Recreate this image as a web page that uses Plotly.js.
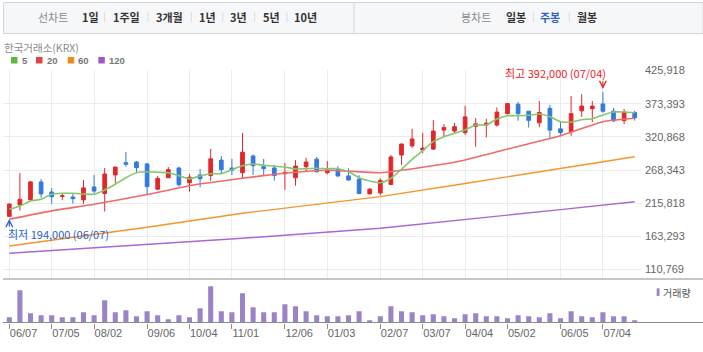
<!DOCTYPE html>
<html>
<head>
<meta charset="utf-8">
<script src="https://cdn.plot.ly/plotly-3.0.1.min.js"></script>
<style>
html,body{margin:0;padding:0;background:#fff;}
#chart{width:703px;height:352px;}
</style>
</head>
<body>
<div id="chart"></div>
<script>
// ---------------- DATA ----------------
const dates = [
 '2024-06-07','2024-06-14','2024-06-21','2024-06-28','2024-07-05','2024-07-12','2024-07-19','2024-07-26',
 '2024-08-02','2024-08-09','2024-08-16','2024-08-23','2024-08-30','2024-09-06','2024-09-13','2024-09-20',
 '2024-09-27','2024-10-04','2024-10-11','2024-10-18','2024-10-25','2024-11-01','2024-11-08','2024-11-15',
 '2024-11-22','2024-11-29','2024-12-06','2024-12-13','2024-12-20','2024-12-27','2025-01-03','2025-01-10',
 '2025-01-17','2025-01-24','2025-01-31','2025-02-07','2025-02-14','2025-02-21','2025-02-28','2025-03-07',
 '2025-03-14','2025-03-21','2025-03-28','2025-04-04','2025-04-11','2025-04-18','2025-04-25','2025-05-02',
 '2025-05-09','2025-05-16','2025-05-23','2025-05-30','2025-06-05','2025-06-13','2025-06-20','2025-06-27',
 '2025-07-04','2025-07-11','2025-07-18','2025-07-25'
];
const openP = [195000,213000,221000,249500,233500,226500,225500,221000,241500,231000,260500,280000,281000,278000,238000,256000,
 271500,248000,260500,259500,284000,271500,264000,290500,273500,271500,262500,256000,273500,285500,264000,269000,
 259000,254000,230500,232000,245500,292000,306500,300000,301500,331500,330000,327500,337500,339500,339500,357500,
 372500,361500,343000,366000,333500,329000,362000,365500,373000,361500,346500,359500];
const highP = [215000,263500,251000,254000,240000,231500,231000,252500,260500,271500,273500,297000,282500,279500,259000,273000,
 273500,262000,270000,301500,290500,286000,327000,293000,286000,276500,279500,284000,287500,289000,282500,274500,
 271000,260000,240000,255000,292000,310000,333500,327000,347500,341000,343000,370000,350500,349500,367500,374000,
 376000,361500,377500,371500,345500,385500,388500,377500,392000,366500,365000,362000];
const lowP = [194000,204000,220500,224500,215000,220500,215000,214500,231500,202500,247500,273500,264500,230000,236500,256000,
 242000,234000,241000,251000,262000,260500,255000,260500,260500,251500,237000,243500,265500,264500,261500,257000,
 251500,230500,229500,228500,244500,276500,303500,295000,300000,320500,325500,324000,305000,320000,337000,356500,
 346500,335500,336000,319000,321500,322500,352500,344000,359000,344500,341000,346500];
const closeP = [214500,222000,249500,230500,226000,227500,223000,240000,235000,262000,273000,277500,272000,242000,255000,269000,
 245000,257000,254500,286000,269000,268000,296500,275000,270500,259500,264500,274500,281000,265500,268500,259000,
 252500,231000,238000,252000,289000,309500,317500,303000,330000,335500,337000,352500,341500,342500,360000,373500,
 357500,347000,359500,331500,327500,357500,369500,369500,361500,346000,360000,351000];
const volume = [160000,970000,280000,220000,220000,160000,160000,310000,220000,670000,310000,370000,190000,340000,220000,100000,
 220000,160000,430000,1090000,340000,310000,880000,460000,310000,310000,550000,490000,340000,220000,190000,190000,
 220000,340000,70000,190000,490000,340000,310000,220000,250000,190000,130000,250000,280000,190000,190000,130000,
 220000,190000,160000,280000,130000,340000,190000,160000,310000,190000,190000,70000];
const ma5 = [206100,211330,219250,221940,229860,231440,231440,230330,229860,236670,245690,256150,264060,265650,264700,264060,
 259310,254560,258840,262480,262480,268820,275150,277840,275780,274200,273090,269920,270400,271030,270400,270400,
 265650,256150,250920,248230,255200,269450,285290,298900,313160,321080,326460,331690,339610,339610,349110,354340,
 354340,354970,357030,352750,344830,344360,348000,349580,355440,360190,360190,359090];
const ma20Idx = [0,4,8,13,17,22,26,30,35,39,43,47,52,56,59];
const ma20Val = [190300,203600,214000,229500,243500,255200,263100,267900,264100,272600,284200,301600,322700,344800,350200];
const ma60Idx = [0,13,22,30,35,43,52,59];
const ma60Val = [148000,177600,199800,215600,226100,247000,271200,289400];
const ma120Idx = [0,13,22,35,43,52,59];
const ma120Val = [136400,150700,160200,176000,189600,205600,218100];
const tickDates = ['2024-06-07','2024-07-05','2024-08-02','2024-09-06','2024-10-04','2024-11-01','2024-12-06',
 '2025-01-03','2025-02-07','2025-03-07','2025-04-04','2025-05-02','2025-06-05','2025-07-04'];
const tickLabels = ['06/07','07/05','08/02','09/06','10/04','11/01','12/06','01/03','02/07','03/07','04/04','05/02','06/05','07/04'];
const priceTicks = [110769,163293,215818,268343,320868,373393,425918];
const navLeft = ['1일','1주일','3개월','1년','3년','5년','10년'];
const navRight = ['일봉','주봉','월봉'];

// ---------------- HELPERS ----------------
const W = 703, H = 352;
const px = x => x / W;
const py = y => 1 - y / H;
const CJK = '"Noto Sans CJK KR", "Noto Sans", sans-serif';
const NUM = '"Liberation Sans", Arial, sans-serif';
const UP = '#e0282a', DOWN = '#3479dc';

const pick = (idx) => idx.map(i => dates[i]);

// ---------------- TRACES ----------------
const traces = [
  {
    type: 'candlestick', x: dates, open: openP, high: highP, low: lowP, close: closeP,
    xaxis: 'x', yaxis: 'y',
    increasing: {line: {color: UP, width: 1}, fillcolor: UP},
    decreasing: {line: {color: DOWN, width: 1}, fillcolor: DOWN},
    whiskerwidth: 0, hoverinfo: 'skip'
  },
  {type: 'scatter', mode: 'lines', x: pick(ma120Idx), y: ma120Val, xaxis: 'x', yaxis: 'y',
   line: {color: '#a768d2', width: 1.4}, hoverinfo: 'skip'},
  {type: 'scatter', mode: 'lines', x: pick(ma60Idx), y: ma60Val, xaxis: 'x', yaxis: 'y',
   line: {color: '#f5952b', width: 1.4}, hoverinfo: 'skip'},
  {type: 'scatter', mode: 'lines', x: pick(ma20Idx), y: ma20Val, xaxis: 'x', yaxis: 'y',
   line: {color: '#f06a6a', width: 1.6, shape: 'spline', smoothing: 0.5}, hoverinfo: 'skip'},
  {type: 'scatter', mode: 'lines', x: dates, y: ma5, xaxis: 'x', yaxis: 'y',
   line: {color: '#82c86c', width: 1.6, shape: 'spline', smoothing: 0.6}, hoverinfo: 'skip'},
  {type: 'bar', x: dates, y: volume, xaxis: 'x2', yaxis: 'y2',
   marker: {color: '#9b84c5'}, hoverinfo: 'skip'}
];

// ---------------- LAYOUT ----------------
const xDomain = [px(3), px(641)];
const xRange = [-0.594, 59.594];
const annotations = [];
const shapes = [];

// header box
shapes.push({type: 'rect', xref: 'paper', yref: 'paper', x0: px(3.5), x1: px(703), y0: py(33.5), y1: py(2.5),
  fillcolor: '#f6f7f9', line: {color: '#d3d6db', width: 1}, layer: 'below'});
shapes.push({type: 'line', xref: 'paper', yref: 'paper', x0: px(354), x1: px(354), y0: py(33), y1: py(3),
  line: {color: '#d3d6db', width: 1}});
const navLeftX = [90, 126.6, 169.7, 207.3, 238.7, 271.2, 305.9];
const navRightX = [515.5, 550.2, 587.2];
const sepX = [104.4, 148, 191.4, 222.8, 254.6, 286.9, 533.4, 569.3];
sepX.forEach(x => shapes.push({type: 'line', xref: 'paper', yref: 'paper', x0: px(x), x1: px(x),
  y0: py(22), y1: py(12), line: {color: '#dcdcdc', width: 1}}));
const hdr = (t, x, color, bold) => annotations.push({text: bold ? '<b>' + t + '</b>' : t, xref: 'paper', yref: 'paper',
  x: px(x), y: py(17.5), xanchor: 'center', yanchor: 'middle', showarrow: false,
  font: {family: CJK, size: 11, color: color}});
hdr('선차트', 52.5, '#8a8a8a', false);
hdr('봉차트', 476.2, '#8a8a8a', false);
navLeft.forEach((t, i) => hdr(t, navLeftX[i], '#333', true));
navRight.forEach((t, i) => hdr(t, navRightX[i], t === '주봉' ? '#2f5fbd' : '#333', true));

// title + MA legend
annotations.push({text: '한국거래소(KRX)', xref: 'paper', yref: 'paper', x: px(2), y: py(47.5), xanchor: 'left',
  yanchor: 'middle', showarrow: false, font: {family: CJK, size: 10.5, color: '#8a8a8a'}});
const legItems = [['5', '#5cb83e', 11], ['20', '#e8403c', 36], ['60', '#f08a1e', 67.7], ['120', '#9b59c9', 98.3]];
legItems.forEach(([t, c, x]) => {
  shapes.push({type: 'rect', xref: 'paper', yref: 'paper', x0: px(x), x1: px(x + 6.5), y0: py(63.5), y1: py(57),
    fillcolor: c, line: {width: 0}});
  annotations.push({text: '<b>' + t + '</b>', xref: 'paper', yref: 'paper', x: px(x + 8.5), y: py(60.8),
    xanchor: 'left', yanchor: 'middle', showarrow: false, font: {family: NUM, size: 9.5, color: '#777'}});
});

// separators for the volume panel
shapes.push({type: 'line', xref: 'paper', yref: 'paper', x0: px(3), x1: 1, y0: py(279), y1: py(279),
  line: {color: '#8c8c8c', width: 1}});
shapes.push({type: 'line', xref: 'paper', yref: 'paper', x0: px(3), x1: 1, y0: py(322.5), y1: py(322.5),
  line: {color: '#8c8c8c', width: 1}});

// volume legend
shapes.push({type: 'rect', xref: 'paper', yref: 'paper', x0: px(656.7), x1: px(659.5), y0: py(296), y1: py(288.3),
  fillcolor: '#9b84c5', line: {width: 0}});
annotations.push({text: '거래량', xref: 'paper', yref: 'paper', x: px(661), y: py(292.3), xanchor: 'left',
  yanchor: 'middle', showarrow: false, font: {family: CJK, size: 10, color: '#555'}});

// max / min markers
let hiI = 0, loI = 0;
highP.forEach((v, i) => { if (v > highP[hiI]) hiI = i; });
lowP.forEach((v, i) => { if (v < lowP[loI]) loI = i; });
const fmt = v => v.toLocaleString('en-US');
const lbl = d => d.slice(5, 7) + '/' + d.slice(8, 10);
annotations.push({text: '최고 ' + fmt(highP[hiI]) + ' (' + lbl(dates[hiI]) + ')', xref: 'x', yref: 'paper',
  x: dates[hiI], y: py(73.5), xanchor: 'right', yanchor: 'middle', xshift: 5, showarrow: false,
  font: {family: CJK, size: 11, color: '#e8231f'}});
annotations.push({text: '', xref: 'x', yref: 'y', x: dates[hiI], y: highP[hiI], ax: 0, ay: -12, standoff: 3,
  showarrow: true, arrowhead: 5, arrowsize: 1.1, arrowwidth: 1.2, arrowcolor: '#e8231f'});
annotations.push({text: '최저 ' + fmt(lowP[loI]) + ' (' + lbl(dates[loI]) + ')', xref: 'paper', yref: 'paper',
  x: px(6), y: py(234.5), xanchor: 'left', yanchor: 'middle', showarrow: false,
  font: {family: CJK, size: 11, color: '#2a60cf'}});
annotations.push({text: '', xref: 'x', yref: 'y', x: dates[loI], y: lowP[loI], ax: 0, ay: 11, standoff: 2,
  showarrow: true, arrowhead: 5, arrowsize: 1.1, arrowwidth: 1.2, arrowcolor: '#2a60cf'});

const layout = {
  width: W, height: H,
  margin: {l: 0, r: 0, t: 0, b: 0, pad: 0},
  paper_bgcolor: '#ffffff', plot_bgcolor: '#ffffff',
  showlegend: false,
  boxgap: 0.5,
  bargap: 0.52,
  dragmode: false,
  xaxis: {
    type: 'category', categoryorder: 'array', categoryarray: dates, domain: xDomain, range: xRange,
    anchor: 'y', tickvals: tickDates, showticklabels: false, ticks: '', showgrid: true,
    gridcolor: '#ececec', gridwidth: 1, zeroline: false, showline: false, rangeslider: {visible: false},
    fixedrange: true
  },
  yaxis: {
    domain: [py(279), py(70)], range: [95717, 426710], side: 'right', anchor: 'x',
    tickvals: priceTicks, tickformat: ',d', showgrid: true, gridcolor: '#ececec', gridwidth: 1,
    zeroline: false, showline: false, ticks: '', ticklabelstandoff: 3,
    tickfont: {family: NUM, size: 11, color: '#666'}, fixedrange: true
  },
  xaxis2: {
    type: 'category', categoryorder: 'array', categoryarray: dates, domain: xDomain, range: xRange,
    anchor: 'y2', tickvals: tickDates, ticktext: tickLabels, ticks: 'outside', ticklen: 5, tickwidth: 1,
    tickcolor: '#8c8c8c', ticklabelposition: 'outside right', showgrid: false, zeroline: false, showline: false,
    tickfont: {family: NUM, size: 11, color: '#666'}, fixedrange: true
  },
  yaxis2: {
    domain: [py(322.5), py(280)], range: [0, 1275000], anchor: 'x2', showticklabels: false,
    showgrid: false, zeroline: false, showline: false, ticks: '', fixedrange: true
  },
  shapes: shapes,
  annotations: annotations
};

Plotly.newPlot('chart', traces, layout, {staticPlot: true, displayModeBar: false});
</script>
</body>
</html>
